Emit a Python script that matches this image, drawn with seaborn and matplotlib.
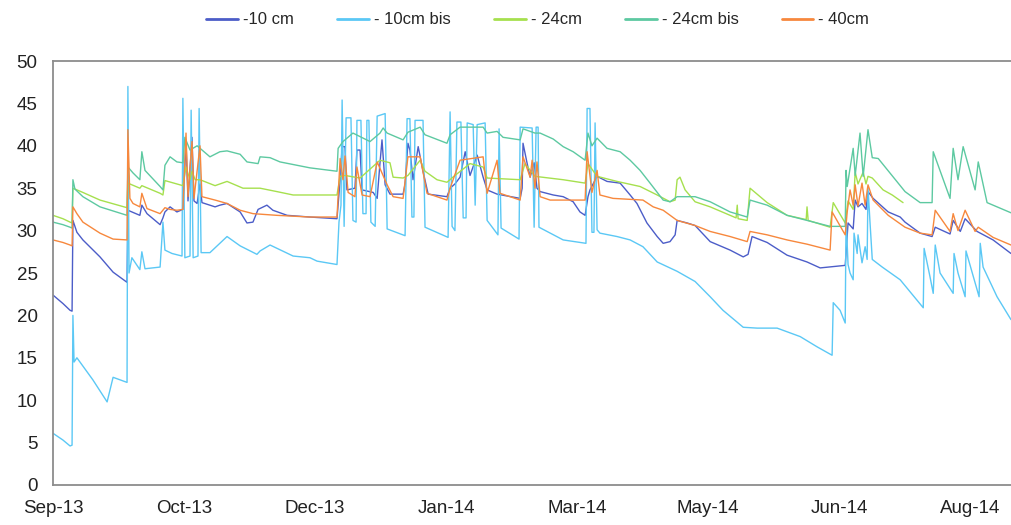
import numpy as np
import pandas as pd
import matplotlib
matplotlib.use('Agg')
import matplotlib.pyplot as plt
import seaborn as sns

# series names and colours (legend order)
series_names = ['-10 cm', '- 10cm bis', '- 24cm', '- 24cm bis', '- 40cm']
colors = ['#4c5dc8', '#5bc8f5', '#a6e04e', '#5dc9a1', '#f7883d']

# x axis: days since start, labelled every 46 days
tick_days = [0, 46, 92, 138, 184, 230, 276, 322]
tick_labels = ['Sep-13', 'Oct-13', 'Dec-13', 'Jan-14', 'Mar-14', 'May-14', 'Jun-14', 'Aug-14']

# -10 cm
d_10 = [0, 3.5, 6.0, 6.7, 7.0, 8.4, 10.5, 16.5, 21.1, 26.0,
        26.3, 30.5, 31.2, 33.0, 37.6, 38.6, 39.3, 41.1, 43.5, 45.6,
        46.7, 47.4, 48.8, 49.5, 50.6, 51.6, 52.3, 56.9, 58.6, 61.1,
        65.7, 68.1, 70.2, 72.0, 75.1, 77.2, 82.2, 90.2, 99.7, 100.8,
        101.5, 102.5, 103.2, 106.0, 106.7, 107.8, 108.5, 112.4, 113.8, 114.8,
        115.5, 116.6, 118.3, 122.9, 123.6, 124.6, 125.3, 126.4, 128.2, 129.9,
        131.7, 138.3, 139.4, 141.1, 142.9, 144.7, 146.4, 148.9, 151.0, 152.4,
        155.9, 164.0, 164.7, 165.0, 166.4, 167.5, 168.9, 169.9, 171.0, 175.6,
        179.1, 182.6, 185.0, 186.8, 187.8, 188.5, 191.0, 194.5, 199.1, 202.6,
        205.0, 208.5, 212.1, 214.2, 216.6, 218.4, 219.1, 222.6, 225.4, 230.7,
        237.7, 242.3, 244.0, 245.4, 250.7, 257.7, 264.7, 269.3, 278.1, 279.1,
        280.9, 281.6, 282.6, 284.0, 285.4, 286.1, 287.9, 293.2, 297.4, 299.1,
        304.4, 308.6, 309.7, 314.9, 316.0, 318.5, 320.2, 324.4, 330.0, 336.3]
v_10 = [22.4, 21.4, 20.6, 20.5, 31.2, 29.8, 28.9, 26.9, 25.1, 23.9,
        32.4, 31.8, 33.0, 32.0, 30.7, 31.5, 32.2, 32.8, 32.2, 32.5,
        40.5, 33.5, 41.0, 33.5, 33.2, 35.5, 33.3, 32.8, 33.0, 33.2,
        32.2, 30.9, 31.0, 32.5, 33.0, 32.4, 31.8, 31.6, 31.4, 36.0,
        39.9, 39.9, 34.8, 35.0, 39.5, 39.5, 34.8, 34.5, 33.8, 38.0,
        40.7, 35.4, 34.3, 34.3, 35.5, 40.3, 39.5, 36.0, 39.9, 37.0,
        34.3, 34.0, 35.0, 35.5, 36.3, 39.3, 36.5, 38.9, 36.3, 34.8,
        34.3, 33.8, 35.0, 40.3, 38.0, 36.3, 38.0, 35.0, 34.6, 34.2,
        34.0, 33.4, 32.2, 31.8, 34.0, 34.8, 36.4, 35.8, 35.6, 34.2,
        33.2, 30.9, 29.3, 28.5, 28.7, 29.5, 31.2, 30.9, 30.6, 28.7,
        27.7, 26.9, 27.2, 29.3, 28.6, 27.1, 26.3, 25.6, 25.9, 30.9,
        30.2, 33.6, 32.8, 33.2, 32.5, 34.6, 33.8, 32.2, 31.6, 31.0,
        29.7, 29.3, 30.4, 29.6, 31.2, 29.9, 31.4, 29.9, 28.9, 27.3]

# -10cm bis
d_10b = [0, 3.5, 6.0, 6.7, 7.0, 7.4, 8.4, 14.0, 19.0, 21.1,
         23.5, 26.0, 26.3, 26.7, 27.7, 30.5, 31.2, 32.3, 37.6, 38.6,
         39.3, 41.8, 45.3, 45.6, 46.3, 48.1, 48.5, 49.2, 50.9, 51.3,
         52.0, 55.1, 61.1, 65.7, 71.6, 72.7, 76.2, 84.3, 90.2, 92.7,
         99.7, 100.4, 101.1, 101.5, 102.2, 102.9, 104.6, 105.3, 106.4, 106.7,
         108.1, 108.8, 109.9, 110.2, 110.9, 111.6, 113.1, 113.8, 116.6, 117.3,
         123.6, 124.3, 125.3, 126.0, 126.7, 127.1, 129.9, 130.6, 138.7, 139.4,
         140.1, 141.1, 141.8, 143.2, 144.0, 145.0, 145.4, 147.5, 148.2, 148.9,
         151.7, 152.4, 156.2, 156.6, 157.3, 163.6, 164.0, 168.2, 168.9, 169.6,
         170.3, 170.6, 179.1, 187.1, 187.5, 188.5, 189.2, 189.9, 190.3, 191.0,
         192.0, 198.0, 202.6, 207.1, 212.1, 219.1, 225.4, 230.7, 235.2, 242.3,
         247.2, 254.2, 262.3, 268.2, 273.5, 273.9, 276.3, 278.1, 278.4, 279.1,
         279.8, 280.9, 281.2, 282.3, 282.6, 284.0, 285.1, 285.8, 286.1, 286.8,
         287.6, 291.1, 297.4, 305.5, 305.8, 307.9, 309.0, 309.7, 311.4, 316.0,
         316.3, 317.7, 320.2, 320.5, 322.7, 325.1, 325.5, 326.5, 331.4, 336.3]
v_10b = [6.1, 5.3, 4.6, 4.7, 20.0, 14.5, 15.0, 12.4, 9.8, 12.7,
         12.4, 12.1, 47.0, 25.0, 26.8, 25.4, 27.5, 25.5, 25.7, 31.0,
         27.7, 27.3, 27.0, 45.6, 26.8, 27.0, 44.2, 26.8, 27.0, 44.4,
         27.4, 27.4, 29.3, 28.2, 27.2, 27.6, 28.3, 27.0, 26.8, 26.4,
         26.0, 31.0, 33.0, 45.4, 30.5, 43.3, 43.3, 31.2, 31.0, 43.0,
         43.0, 32.0, 32.0, 43.0, 43.0, 31.0, 30.5, 43.5, 43.8, 30.2,
         29.4, 43.2, 43.2, 31.6, 31.6, 43.0, 43.0, 30.4, 29.2, 44.0,
         30.5, 30.0, 42.8, 42.8, 31.5, 31.5, 42.7, 42.5, 33.0, 42.5,
         42.7, 31.2, 29.5, 42.0, 30.3, 29.0, 42.2, 42.1, 30.4, 42.2,
         42.2, 30.4, 28.9, 28.5, 44.4, 44.4, 29.8, 29.8, 42.7, 30.1,
         29.7, 29.3, 28.9, 28.1, 26.3, 25.2, 24.0, 22.2, 20.6, 18.6,
         18.5, 18.5, 17.5, 16.3, 15.3, 21.5, 20.6, 19.1, 31.5, 26.0,
         25.0, 24.2, 29.7, 27.3, 29.5, 26.2, 28.1, 26.6, 35.1, 31.0,
         26.6, 25.7, 24.2, 20.9, 27.9, 24.5, 22.6, 28.3, 25.0, 22.6,
         27.3, 25.0, 22.2, 27.6, 25.0, 22.2, 28.5, 25.7, 22.2, 19.5]

# -24cm
d_24 = [0, 3.5, 6.0, 6.7, 7.0, 10.5, 16.5, 26.0, 26.3, 30.5,
        31.2, 37.6, 38.6, 39.3, 45.6, 46.7, 48.1, 48.8, 49.9, 51.6,
        56.9, 61.1, 66.7, 72.7, 78.6, 84.3, 99.7, 100.8, 102.5, 107.8,
        114.8, 118.3, 119.4, 122.9, 124.6, 128.9, 130.6, 134.8, 138.3, 141.1,
        146.4, 151.0, 152.4, 164.0, 165.7, 169.2, 179.1, 186.8, 187.8, 191.0,
        198.0, 206.1, 212.1, 216.6, 218.4, 219.1, 220.1, 221.9, 225.4, 230.7,
        237.7, 239.8, 240.2, 240.5, 243.7, 244.7, 250.7, 257.7, 264.4, 264.7,
        265.1, 272.8, 273.9, 278.1, 279.1, 280.9, 281.6, 282.6, 284.4, 285.4,
        286.1, 287.6, 291.4, 294.6, 298.4]
v_24 = [31.8, 31.4, 31.0, 30.9, 35.0, 34.5, 33.6, 32.7, 35.6, 35.0,
        35.3, 34.4, 34.2, 35.9, 35.3, 37.5, 36.0, 37.0, 36.0, 36.0,
        35.3, 35.8, 35.0, 35.0, 34.6, 34.2, 34.2, 36.4, 36.5, 36.2,
        38.3, 38.0, 36.3, 36.2, 36.5, 38.3, 37.0, 36.0, 35.7, 36.5,
        37.9, 37.5, 36.2, 36.0, 37.9, 36.4, 36.0, 35.6, 37.9, 36.4,
        35.8, 35.2, 34.2, 33.4, 33.6, 36.0, 36.3, 34.8, 33.4, 32.8,
        31.8, 31.5, 33.0, 31.4, 31.2, 35.0, 33.3, 31.8, 31.3, 32.8,
        31.2, 30.4, 33.3, 30.9, 33.5, 32.5, 36.9, 35.5, 36.9, 35.5,
        36.4, 36.2, 34.8, 34.2, 33.3]

# -24cm bis
d_24b = [0, 3.5, 6.0, 6.7, 7.0, 7.7, 10.5, 16.5, 26.0, 26.3,
         28.1, 30.5, 31.2, 32.3, 37.6, 38.6, 39.3, 41.1, 43.5, 45.6,
         46.3, 48.1, 50.6, 55.1, 58.6, 61.1, 65.7, 68.1, 72.0, 72.7,
         76.2, 79.7, 85.7, 90.2, 99.7, 100.1, 101.8, 105.3, 111.3, 114.8,
         115.9, 117.3, 122.9, 124.6, 128.9, 130.6, 138.3, 139.4, 142.9, 151.0,
         152.4, 155.9, 158.0, 164.0, 165.0, 169.2, 171.0, 175.6, 179.1, 182.6,
         186.8, 187.8, 189.2, 191.0, 194.5, 199.1, 202.6, 206.1, 209.6, 214.2,
         216.6, 219.1, 222.6, 225.4, 230.7, 237.7, 243.7, 244.7, 250.7, 257.7,
         264.7, 272.8, 278.1, 278.4, 278.8, 280.9, 281.6, 283.3, 284.4, 286.1,
         287.6, 289.7, 299.1, 304.4, 308.6, 309.0, 314.9, 316.0, 317.7, 319.5,
         323.7, 324.8, 327.9, 336.3]
v_24b = [31.0, 30.7, 30.4, 30.3, 36.0, 34.9, 34.0, 32.8, 31.8, 37.5,
         36.8, 36.0, 39.3, 37.1, 35.2, 34.8, 37.7, 38.7, 38.1, 38.0,
         41.0, 39.5, 40.0, 38.7, 39.3, 39.4, 39.0, 38.1, 37.9, 38.7,
         38.6, 38.1, 37.7, 37.4, 37.0, 39.7, 40.5, 41.5, 40.5, 41.5,
         42.1, 41.5, 40.7, 41.6, 42.2, 41.3, 40.3, 41.3, 42.2, 42.2,
         41.5, 41.7, 41.0, 40.7, 42.0, 41.5, 41.5, 40.8, 39.9, 39.3,
         38.3, 41.5, 40.0, 40.9, 39.7, 39.3, 38.3, 37.1, 35.6, 33.6,
         33.4, 34.0, 34.0, 34.0, 33.4, 32.2, 31.6, 33.6, 33.0, 31.8,
         31.2, 30.5, 30.5, 37.1, 35.2, 39.7, 36.5, 41.5, 36.4, 41.9,
         38.6, 38.5, 34.6, 33.3, 33.3, 39.3, 33.8, 39.7, 36.0, 39.9,
         34.8, 38.1, 33.3, 32.1]

# -40cm
d_40 = [0, 3.5, 6.0, 6.7, 7.0, 8.4, 10.5, 16.5, 21.1, 26.0,
        26.3, 27.0, 28.1, 30.5, 31.2, 33.0, 37.6, 39.3, 41.1, 43.5,
        45.6, 46.7, 47.4, 48.8, 49.5, 51.6, 52.3, 56.9, 61.1, 65.7,
        70.2, 78.6, 90.2, 99.7, 100.8, 101.8, 102.5, 103.6, 106.0, 106.7,
        108.5, 111.3, 113.8, 117.3, 119.4, 122.9, 124.6, 128.9, 131.3, 138.3,
        139.4, 142.9, 151.0, 152.4, 155.9, 156.9, 164.0, 165.0, 167.5, 168.2,
        169.2, 169.9, 171.0, 174.5, 186.8, 187.5, 189.2, 191.0, 192.0, 196.6,
        207.1, 210.7, 214.2, 219.1, 225.4, 230.7, 237.7, 243.7, 244.7, 250.7,
        257.7, 264.7, 272.8, 273.5, 278.1, 278.8, 279.8, 280.9, 281.6, 282.6,
        284.0, 285.1, 286.1, 287.9, 293.2, 299.1, 304.4, 308.6, 309.7, 314.9,
        316.0, 317.7, 320.2, 323.7, 324.8, 330.0, 336.3]
v_40 = [28.9, 28.6, 28.3, 28.2, 32.8, 32.0, 31.0, 29.7, 29.0, 28.9,
        41.9, 33.8, 33.2, 32.8, 34.4, 32.6, 32.0, 32.7, 32.5, 32.4,
        32.5, 41.5, 34.0, 40.5, 33.8, 40.0, 34.0, 33.6, 33.2, 32.4,
        32.0, 31.8, 31.6, 31.6, 38.5, 36.0, 38.8, 34.5, 34.0, 37.5,
        34.2, 34.0, 38.1, 35.4, 34.0, 33.8, 38.7, 38.7, 34.4, 33.6,
        35.0, 38.3, 38.7, 34.4, 38.3, 34.4, 33.6, 38.7, 36.3, 38.3,
        35.0, 38.1, 34.0, 33.6, 33.6, 39.3, 34.5, 37.1, 34.2, 33.8,
        33.6, 32.8, 32.4, 31.2, 30.6, 29.9, 29.3, 28.7, 29.9, 29.5,
        28.9, 28.4, 27.7, 32.2, 29.5, 32.2, 34.8, 33.0, 35.4, 32.9,
        35.6, 33.0, 35.4, 33.6, 31.8, 30.4, 29.7, 29.5, 32.4, 29.9,
        32.0, 30.0, 32.4, 29.9, 30.4, 29.2, 28.3]

all_days = [d_10, d_10b, d_24, d_24b, d_40]
all_vals = [v_10, v_10b, v_24, v_24b, v_40]

frames = []
for name, d, v in zip(series_names, all_days, all_vals):
    frames.append(pd.DataFrame({'day': d, 'value': v, 'series': name}))
df = pd.concat(frames, ignore_index=True)

sns.set_style('white')
plt.rcParams['font.family'] = ['Liberation Sans', 'DejaVu Sans']

fig = plt.figure(figsize=(10.11, 5.25), dpi=100)
ax = fig.add_axes([0.0524, 0.0762, 0.9476, 0.8076])

sns.lineplot(data=df, x='day', y='value', hue='series', hue_order=series_names,
             palette=colors, estimator=None, sort=False, lw=1.0, ax=ax)

ax.set_xlim(0, 336.3)
ax.set_ylim(0, 50)
ax.set_yticks(np.arange(0, 51, 5))
ax.set_xticks(tick_days)
ax.set_xticklabels(tick_labels)
ax.set_xlabel('')
ax.set_ylabel('')

for s in ['left', 'bottom', 'top']:
    ax.spines[s].set_color('#8c8c8c')
    ax.spines[s].set_linewidth(1.3)
ax.spines['right'].set_visible(False)

ax.tick_params(axis='both', length=0, labelsize=13.5, colors='#222222')
ax.tick_params(axis='y', pad=11)
ax.tick_params(axis='x', pad=11)

handles, labs = ax.get_legend_handles_labels()
ax.get_legend().remove()
leg = fig.legend(handles, labs, loc='center', bbox_to_anchor=(0.532, 0.962), ncol=5,
                 frameon=False, fontsize=12, handlelength=1.9, handletextpad=0.3,
                 columnspacing=2.6)
for line in leg.get_lines():
    line.set_linewidth(2.0)

fig.savefig('out.png', dpi=100)
